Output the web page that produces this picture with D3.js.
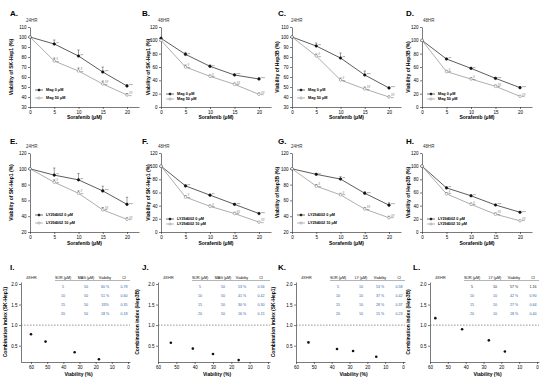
<!DOCTYPE html>
<html>
<head>
<meta charset="utf-8">
<script src="https://cdn.jsdelivr.net/npm/d3@7"></script>
<style>
  body { margin: 0; background: #fff; }
  svg { display: block; font-family: Arial, "Liberation Sans", sans-serif; }
</style>
</head>
<body>
<svg id="fig" width="550" height="384"></svg>
<script>
// ---- data: dose response (viability %) ----
const dose = [0, 5, 10, 15, 20];

const aMag0 = [100, 93, 81, 65, 51],   aMag0Err = [0, 4, 6, 5, 1.5];
const aMag50 = [100, 76, 66, 53, 42],  aMag50Err = [0, 3, 3, 3, 1.5];
const bMag0 = [103, 79, 61, 48, 42],   bMag0Err = [0, 3, 2, 2, 2];
const bMag50 = [100, 60, 46, 34, 19],  bMag50Err = [0, 3, 2, 2, 2];
const cMag0 = [100, 91, 79, 62, 49],   cMag0Err = [0, 3, 5, 4, 1];
const cMag50 = [100, 81, 57, 48, 40],  cMag50Err = [0, 2, 2, 2, 1];
const dMag0 = [100, 72, 58, 43, 29],   dMag0Err = [0, 1, 1, 1, 1];
const dMag50 = [100, 53, 42, 31, 16],  dMag50Err = [0, 2, 2, 2, 1];

const eLy0 = [100, 92, 86, 72, 55],    eLy0Err = [0, 9, 8, 6, 9];
const eLy10 = [100, 83, 69, 48, 36],   eLy10Err = [0, 3, 3, 3, 2];
const fLy0 = [100, 70, 56, 42, 28],    fLy0Err = [0, 1, 1, 1, 1];
const fLy10 = [100, 53, 39, 28, 15],   fLy10Err = [0, 2, 2, 2, 1];
const gLy0 = [100, 93, 87, 69, 54],    gLy0Err = [0, 1, 3, 2, 3];
const gLy10 = [100, 78, 67, 49, 38],   gLy10Err = [0, 2, 2, 2, 2];
const hLy0 = [100, 67, 55, 41, 30],    hLy0Err = [0, 1, 1, 1, 1];
const hLy10 = [100, 58, 42, 27, 17],   hLy10Err = [0, 2, 2, 2, 1];

const starsSingle = ["", "**", "**", "***", "***"];
const hashCombo = ["", "#", "#", "##", "##"];
const starsCombo = ["", "**", "**", "**", "**"];

const magNames = ["Mag 0 \u03bcM", "Mag 50 \u03bcM"];
const lyNames = ["LY294002 0 \u03bcM", "LY294002 10 \u03bcM"];

// ---- data: combination index ----
const ciTicksX = [60, 50, 40, 30, 20, 10, 0];
const ciTicksY = [0.5, 1.0, 1.5, 2.0];

const iViab = [60, 51, 33, 18], iCI = [0.78, 0.60, 0.34, 0.17];
const jViab = [53, 41, 30, 16], jCI = [0.57, 0.43, 0.30, 0.15];
const kViab = [53, 37, 28, 15], kCI = [0.58, 0.42, 0.37, 0.23];
const lViab = [57, 42, 27, 18], lCI = [1.17, 0.90, 0.63, 0.36];

const sorCol = ["5", "10", "15", "20"];
const magCol = ["50", "50", "50", "50"];
const lyCol = ["10", "10", "10", "10"];
const iViabTxt = ["60 %", "51 %", "33%", "18 %"], iCiTxt = ["0.78", "0.60", "0.35", "0.18"];
const jViabTxt = ["53 %", "41 %", "30 %", "16 %"], jCiTxt = ["0.56", "0.42", "0.30", "0.15"];
const kViabTxt = ["53 %", "37 %", "28 %", "15 %"], kCiTxt = ["0.58", "0.42", "0.37", "0.23"];
const lViabTxt = ["57 %", "42 %", "27 %", "18 %"], lCiTxt = ["1.16", "0.90", "0.64", "0.40"];

// ---- layout ----
const svg = d3.select("#fig");
const rows = [{ top: 27, bottom: 107, letterY: 15.5, titleY: 21.5, xlabY: 119 },
              { top: 153, bottom: 232, letterY: 143.5, titleY: 147.5, xlabY: 245 }];
const cols = [
  { x0: 30, x20: 127, letter: 10, ylab: 13, title: 26 },
  { x0: 161, x20: 259, letter: 142, ylab: 150, title: 158 },
  { x0: 292, x20: 389, letter: 278, ylab: 279, title: 291 },
  { x0: 422, x20: 520, letter: 406, ylab: 410, title: 423 }
];
const blue = "#2f5da8";

// linear scale fixed by two anchor points, stretched to the axis ends
function anchored(d0, d1, r0, r1, rStart, rEnd) {
  const s = d3.scaleLinear().domain([d0, d1]).range([r0, r1]);
  return d3.scaleLinear().domain([s.invert(rStart), s.invert(rEnd)]).range([rStart, rEnd]);
}

function styleAxis(g) {
  g.attr("font-size", 4.5).attr("font-family", "Arial, 'Liberation Sans', sans-serif");
  g.selectAll("path, line").attr("stroke", "#222").attr("stroke-width", 0.6);
}

const curvePanels = [
  { letter: "A.", row: 0, col: 0, time: "24HR", cell: "SK-Hep1", yDom: [30, 110], yStep: 10, names: magNames, s0: aMag0, e0: aMag0Err, s1: aMag50, e1: aMag50Err },
  { letter: "B.", row: 0, col: 1, time: "48HR", cell: "SK-Hep1", yDom: [0, 120], yStep: 20, names: magNames, s0: bMag0, e0: bMag0Err, s1: bMag50, e1: bMag50Err },
  { letter: "C.", row: 0, col: 2, time: "24HR", cell: "Hep3B", yDom: [30, 110], yStep: 10, names: magNames, s0: cMag0, e0: cMag0Err, s1: cMag50, e1: cMag50Err },
  { letter: "D.", row: 0, col: 3, time: "48HR", cell: "Hep3B", yDom: [0, 120], yStep: 20, names: magNames, s0: dMag0, e0: dMag0Err, s1: dMag50, e1: dMag50Err },
  { letter: "E.", row: 1, col: 0, time: "24HR", cell: "SK-Hep1", yDom: [20, 120], yStep: 20, names: lyNames, s0: eLy0, e0: eLy0Err, s1: eLy10, e1: eLy10Err },
  { letter: "F.", row: 1, col: 1, time: "48HR", cell: "SK-Hep1", yDom: [0, 120], yStep: 20, names: lyNames, s0: fLy0, e0: fLy0Err, s1: fLy10, e1: fLy10Err },
  { letter: "G.", row: 1, col: 2, time: "24HR", cell: "Hep3B", yDom: [20, 120], yStep: 20, names: lyNames, s0: gLy0, e0: gLy0Err, s1: gLy10, e1: gLy10Err },
  { letter: "H.", row: 1, col: 3, time: "48HR", cell: "Hep3B", yDom: [0, 120], yStep: 20, names: lyNames, s0: hLy0, e0: hLy0Err, s1: hLy10, e1: hLy10Err }
];

function drawCurve(p) {
  const r = rows[p.row], c = cols[p.col];
  const xEnd = c.x20 + 12;
  const x = anchored(0, 20, c.x0, c.x20, c.x0, xEnd);
  const y = d3.scaleLinear().domain(p.yDom).range([r.bottom, r.top]);
  const g = svg.append("g");

  g.append("g").attr("transform", `translate(0,${r.bottom})`)
    .call(d3.axisBottom(x).tickValues(dose).tickSize(2).tickSizeOuter(0).tickPadding(1.5))
    .call(styleAxis);
  g.append("g").attr("transform", `translate(${c.x0},0)`)
    .call(d3.axisLeft(y).tickValues(d3.range(p.yDom[0], p.yDom[1] + 1, p.yStep)).tickSize(2).tickSizeOuter(0).tickPadding(1.5))
    .call(styleAxis);

  // labels
  svg.append("text").attr("x", c.letter).attr("y", r.letterY).attr("font-size", 8).attr("font-weight", "bold").text(p.letter);
  svg.append("text").attr("x", c.title).attr("y", r.titleY).attr("font-size", 4.5).attr("fill", "#333").text(p.time);
  svg.append("text").attr("transform", `translate(${c.ylab},${(r.top + r.bottom) / 2}) rotate(-90)`)
    .attr("text-anchor", "middle").attr("font-size", 5).attr("font-weight", "bold")
    .text(`Viability of ${p.cell} (%)`);
  svg.append("text").attr("x", (c.x0 + xEnd) / 2).attr("y", r.xlabY).attr("text-anchor", "middle")
    .attr("font-size", 5).attr("font-weight", "bold").text("Sorafenib (\u03bcM)");

  const series = [
    { v: p.s0, e: p.e0, line: "#333", fill: "#111", notes: [starsSingle] },
    { v: p.s1, e: p.e1, line: "#999", fill: "#fff", notes: [hashCombo, starsCombo] }
  ];
  const line = d3.line().x((d, i) => x(dose[i])).y(d => y(d));
  series.forEach(s => {
    g.append("path").datum(s.v).attr("d", line).attr("fill", "none").attr("stroke", s.line).attr("stroke-width", 0.8);
    // error bars (upper)
    g.selectAll(null).data(s.v).join("path")
      .attr("d", (d, i) => s.e[i] ? `M${x(dose[i])},${y(d)}V${y(d + s.e[i])}M${x(dose[i]) - 1.2},${y(d + s.e[i])}H${x(dose[i]) + 1.2}` : "")
      .attr("stroke", "#444").attr("stroke-width", 0.5).attr("fill", "none");
    g.selectAll(null).data(s.v).join("circle")
      .attr("cx", (d, i) => x(dose[i])).attr("cy", d => y(d)).attr("r", 1.3)
      .attr("fill", s.fill).attr("stroke", s.fill === "#fff" ? "#777" : "#111").attr("stroke-width", 0.5);
  });
  // significance marks
  g.selectAll(null).data(p.s0).join("text")
    .attr("x", (d, i) => x(dose[i]) + 2).attr("y", d => y(d) + 1.3)
    .attr("font-size", 3.2).attr("fill", "#333").text((d, i) => starsSingle[i]);
  g.selectAll(null).data(p.s1).join("text")
    .attr("x", (d, i) => x(dose[i]) + 2).attr("y", d => y(d) - 0.8)
    .attr("font-size", 3.2).attr("fill", "#333").text((d, i) => hashCombo[i]);
  g.selectAll(null).data(p.s1).join("text")
    .attr("x", (d, i) => x(dose[i]) + 2).attr("y", d => y(d) + 2.6)
    .attr("font-size", 3.2).attr("fill", "#333").text((d, i) => starsCombo[i]);

  // legend
  const tight = p.time === "48HR";
  const ly = tight ? [r.bottom - 13, r.bottom - 8] : [r.bottom - 17, r.bottom - 9];
  series.forEach((s, i) => {
    const lg = svg.append("g");
    lg.append("line").attr("x1", c.x0 + 5).attr("x2", c.x0 + 13).attr("y1", ly[i]).attr("y2", ly[i])
      .attr("stroke", s.line).attr("stroke-width", 0.7);
    lg.append("circle").attr("cx", c.x0 + 9).attr("cy", ly[i]).attr("r", 1.1)
      .attr("fill", s.fill).attr("stroke", s.fill === "#fff" ? "#777" : "#111").attr("stroke-width", 0.5);
    lg.append("text").attr("x", c.x0 + 16).attr("y", ly[i] + 1.3).attr("font-size", 3.8).attr("font-weight", "bold")
      .text(p.names[i]);
  });
}
curvePanels.forEach(drawCurve);

// ---- combination index panels ----
const ciPanels = [
  { letter: "I.", lx: 10, axisX: 21, p60: 31, p0: 128, cell: "SK-Hep1", drug: "MAG (\u03bcM)", drugCol: magCol, vx: iViab, ci: iCI, vt: iViabTxt, ct: iCiTxt, firstBlack: false },
  { letter: "J.", lx: 142, axisX: 158, p60: 158, p0: 268, cell: "Hep3B", drug: "MAG (\u03bcM)", drugCol: magCol, vx: jViab, ci: jCI, vt: jViabTxt, ct: jCiTxt, firstBlack: false },
  { letter: "K.", lx: 278, axisX: 296, p60: 296, p0: 403, cell: "SK-Hep1", drug: "LY (\u03bcM)", drugCol: lyCol, vx: kViab, ci: kCI, vt: kViabTxt, ct: kCiTxt, firstBlack: false },
  { letter: "L.", lx: 413, axisX: 430, p60: 430, p0: 537, cell: "Hep3B", drug: "LY (\u03bcM)", drugCol: lyCol, vx: lViab, ci: lCI, vt: lViabTxt, ct: lCiTxt, firstBlack: true }
];

function drawCI(p) {
  const top = 282, bottom = 362;
  const xEnd = p.p0 + 2;
  const x = anchored(60, 0, p.p60, p.p0, p.axisX, xEnd);
  const y = anchored(0.5, 2.0, 345.7, 284, bottom, top);
  const g = svg.append("g");

  g.append("g").attr("transform", `translate(0,${bottom})`)
    .call(d3.axisBottom(x).tickValues(ciTicksX).tickSize(2).tickSizeOuter(0).tickPadding(1.5))
    .call(styleAxis);
  g.append("g").attr("transform", `translate(${p.axisX},0)`)
    .call(d3.axisLeft(y).tickValues(ciTicksY).tickFormat(d3.format(".1f")).tickSize(2).tickSizeOuter(0).tickPadding(1.5))
    .call(styleAxis);

  g.append("line").attr("x1", p.axisX).attr("x2", xEnd).attr("y1", y(1)).attr("y2", y(1))
    .attr("stroke", "#555").attr("stroke-width", 0.6).attr("stroke-dasharray", "1.6,1.4");

  g.selectAll(null).data(p.ci).join("circle")
    .attr("cx", (d, i) => x(p.vx[i])).attr("cy", d => y(d)).attr("r", 1.3).attr("fill", "#111");

  svg.append("text").attr("x", p.lx).attr("y", 270).attr("font-size", 8).attr("font-weight", "bold").text(p.letter);
  svg.append("text").attr("x", p.axisX + 5).attr("y", 278.5).attr("font-size", 4.2).attr("fill", "#333").text("48HR");
  svg.append("text").attr("transform", `translate(${p.lx - 3},${(top + bottom) / 2}) rotate(-90)`)
    .attr("text-anchor", "middle").attr("font-size", 5).attr("font-weight", "bold")
    .text(`Combination index (${p.cell})`);
  svg.append("text").attr("x", (p.axisX + xEnd) / 2 + 3).attr("y", 376).attr("text-anchor", "middle")
    .attr("font-size", 5).attr("font-weight", "bold").text("Viability (%)");

  // table
  const colX = [42, 65, 84, 103].map(o => p.axisX + o);
  const header = ["SOR (\u03bcM)", p.drug, "Viability", "CI"];
  header.forEach((h, i) => svg.append("text").attr("x", colX[i]).attr("y", 278.5).attr("text-anchor", "middle")
    .attr("font-size", 3.6).text(h));
  svg.append("line").attr("x1", p.axisX + 34).attr("x2", xEnd).attr("y1", 280.5).attr("y2", 280.5)
    .attr("stroke", "#444").attr("stroke-width", 0.4);
  const rowY = [287.5, 296.5, 305.5, 314.5];
  sorCol.forEach((s, r) => {
    const cells = [s, p.drugCol[r], p.vt[r], p.ct[r]];
    const fill = (p.firstBlack && r === 0) ? "#222" : blue;
    cells.forEach((t, i) => svg.append("text").attr("x", colX[i]).attr("y", rowY[r]).attr("text-anchor", "middle")
      .attr("font-size", 3.6).attr("fill", fill).text(t));
  });
}
ciPanels.forEach(drawCI);
</script>
</body>
</html>
